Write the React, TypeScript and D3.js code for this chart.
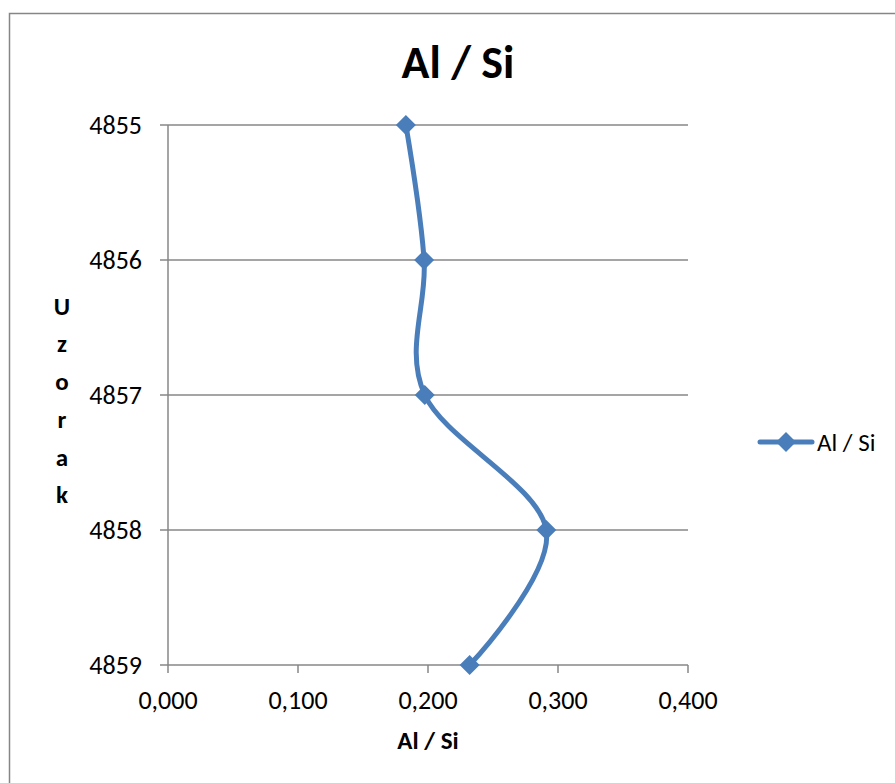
import React from "react";
import * as d3 from "d3";

const depths = [4855, 4856, 4857, 4858, 4859];
const ratios = [0.183, 0.197, 0.1975, 0.291, 0.232];
const xTicks = [0, 0.1, 0.2, 0.3, 0.4];
const yLabelLetters = ["U", "z", "o", "r", "a", "k"];
const seriesName = "Al / Si";
const titleText = "Al / Si";
const xTitle = "Al / Si";

export default function App() {
  const W = 895, H = 783;
  const x = d3.scaleLinear().domain([0, 0.4]).range([168, 688]);
  const y = d3.scaleLinear().domain([4855, 4859]).range([125, 665]);
  const color = "#4a7ebb";
  const font = "Carlito, 'Liberation Sans', Arial, sans-serif";
  const pts: [number, number][] = depths.map((d, i) => [x(ratios[i]), y(d)]);
  const line = d3.line().curve(d3.curveCatmullRom.alpha(0))(pts) || "";
  const diamond = (cx: number, cy: number, r = 10) =>
    `M${cx},${cy - r}L${cx + r},${cy}L${cx},${cy + r}L${cx - r},${cy}Z`;
  const fmt = (v: number) => v.toFixed(3).replace(".", ",");
  return (
    <svg width={W} height={H} style={{ position: "absolute", left: 0, top: 0 }}>
      <rect x={0} y={0} width={W} height={H} fill="#fff" />
      <rect x={9.5} y={13.5} width={W + 20} height={H + 20} fill="none" stroke="#868686" strokeWidth={1.5} />
      <text x={458} y={78} textAnchor="middle" fontFamily={font} fontWeight="bold" fontSize={46}>{titleText}</text>
      {depths.map((d) => (
        <g key={d}>
          <line x1={160} x2={688} y1={y(d)} y2={y(d)} stroke="#878787" strokeWidth={1.5} />
          <text x={142} y={y(d)} dy="0.35em" textAnchor="end" fontFamily={font} fontSize={26}>{d}</text>
        </g>
      ))}
      <line x1={168} x2={168} y1={125} y2={665} stroke="#878787" strokeWidth={1.5} />
      {xTicks.map((t) => (
        <g key={t}>
          <line x1={x(t)} x2={x(t)} y1={665} y2={673} stroke="#878787" strokeWidth={1.5} />
          <text x={x(t)} y={709} textAnchor="middle" fontFamily={font} fontSize={26}>{fmt(t)}</text>
        </g>
      ))}
      <text x={428} y={749} textAnchor="middle" fontFamily={font} fontWeight="bold" fontSize={25}>{xTitle}</text>
      {yLabelLetters.map((l, i) => (
        <text key={i} x={62} y={306 + i * 37.7} dy="0.35em" textAnchor="middle" fontFamily={font} fontWeight="bold" fontSize={25}>{l}</text>
      ))}
      <path d={line} fill="none" stroke={color} strokeWidth={5} strokeLinecap="round" />
      {pts.map(([cx, cy], i) => (
        <path key={i} d={diamond(cx, cy)} fill={color} />
      ))}
      <line x1={760} x2={812} y1={442} y2={442} stroke={color} strokeWidth={5} strokeLinecap="round" />
      <path d={diamond(786, 442)} fill={color} />
      <text x={817} y={442} dy="0.35em" fontFamily={font} fontSize={25}>{seriesName}</text>
    </svg>
  );
}
